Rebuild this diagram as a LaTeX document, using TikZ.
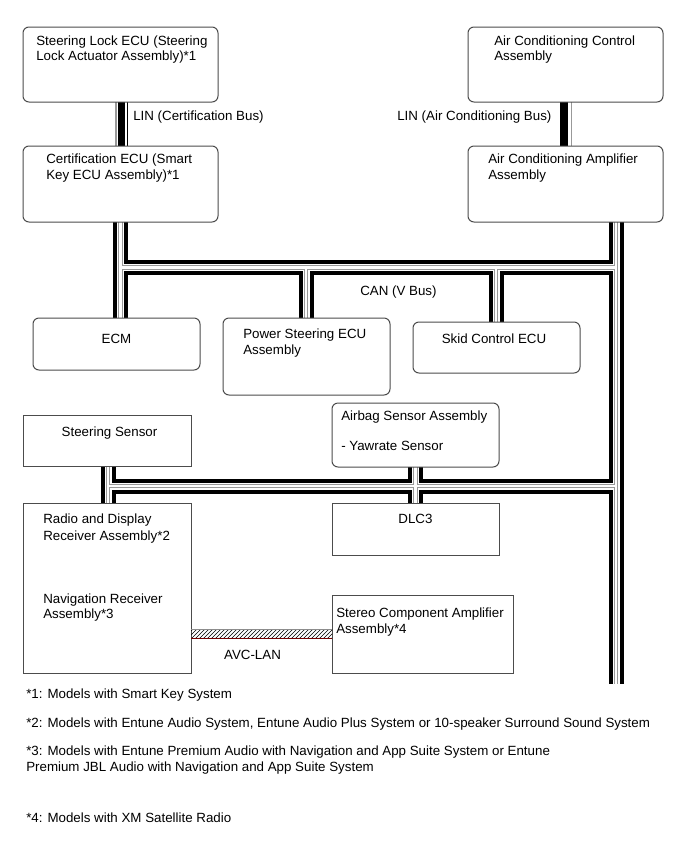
\documentclass[tikz,border=0pt]{standalone}
\usepackage{fontspec}
\setmainfont{Liberation Sans}
\usetikzlibrary{patterns,backgrounds}
\newcommand\Bx[6]{\node[#1, minimum width={(#5-#3)*0.75pt}, minimum height={(#6-#4)*0.75pt}] (#2) at (#3,#4) {};}
\newcommand\busnet[1]{\draw[#1] (cert.south) -- (cert.south |- ecm.north)
  (cert.south |- jR) -- (jR)
  (acamp.south -| jR) -- (rEnd)
  (jPS) -- (jPS |- ps.north)
  (jSk) -- (jSk |- skid.north)
  (sens.south -| jLL) -- (jLL |- radio.north)
  (jLL) -- (jLL -| jR)
  (airbag.south) -- (dlc.north);}
\begin{document}
\begin{tikzpicture}[x=0.75pt,y=-0.75pt,
  bx/.style={draw=black!70, line width=0.75pt, anchor=north west, inner sep=0pt, outer sep=0pt},
  rbx/.style={bx, rounded corners=4.5pt},
  tx/.style={anchor=base west, inner sep=0pt, font=\fontsize{10}{12}\selectfont},
  ctx/.style={tx, anchor=base},
  busA/.style={line width=11.25pt, draw=black},
  busB/.style={line width=5.25pt, draw=white},
  busC/.style={line width=3.4pt, draw=black!40},
  busD/.style={line width=1.9pt, draw=white},
  linblk/.style={draw=black},
  linthin/.style={draw=black, line width=0.9pt},
  lingray/.style={draw=black!40, line width=1pt}
]
\useasboundingbox (0,0) rectangle (690,854);

% boxes
\Bx{rbx}{slock}{23}{27}{218}{102}
\Bx{rbx}{cert}{23}{146}{218}{222}
\Bx{rbx}{acctl}{468}{27}{663}{102}
\Bx{rbx}{acamp}{468}{146}{663}{222}
\Bx{rbx}{ecm}{33}{318}{200}{370}
\Bx{rbx}{ps}{223}{318}{390}{395}
\Bx{rbx}{skid}{413}{322}{580}{373}
\Bx{bx}{sens}{23}{415}{191}{466}
\Bx{rbx}{airbag}{332}{403}{499}{467}
\Bx{bx}{dlc}{332}{503}{499}{555}
\Bx{bx}{radio}{23}{503}{191}{673}
\Bx{bx}{stereo}{332}{595}{513}{673}

% texts
\node[tx] (t1a) at (36,45) {Steering Lock ECU (Steering};
\node[tx] (t1b) at (36,60.5) {Lock Actuator Assembly)*1};
\node[tx] (t2a) at (46,163) {Certification ECU (Smart};
\node[tx] (t2b) at (46,179) {Key ECU Assembly)*1};
\node[tx] (t3a) at (494,45) {Air Conditioning Control};
\node[tx] (t3b) at (494,60.5) {Assembly};
\node[tx] (t4a) at (488,163) {Air Conditioning Amplifier};
\node[tx] (t4b) at (488,179) {Assembly};
\node[tx] (lin1) at (133,120) {LIN (Certification Bus)};
\node[tx] (lin2) at (397,120) {LIN (Air Conditioning Bus)};
\node[tx] (can) at (360,295) {CAN (V Bus)};
\node[ctx] (t5) at (116.5,343) {ECM};
\node[tx] (t6a) at (243,338) {Power Steering ECU};
\node[tx] (t6b) at (243,354) {Assembly};
\node[ctx] (t7) at (494,343) {Skid Control ECU};
\node[ctx] (t8) at (109.5,436) {Steering Sensor};
\node[tx] (t9a) at (341,420) {Airbag Sensor Assembly};
\node[tx] (t9b) at (341,450) {- Yawrate Sensor};
\node[ctx] (t10) at (415.5,523) {DLC3};
\node[tx] (t11a) at (43,523) {Radio and Display};
\node[tx] (t11b) at (43,540) {Receiver Assembly*2};
\node[tx] (t11c) at (43,603) {Navigation Receiver};
\node[tx] (t11d) at (43,618) {Assembly*3};
\node[tx] (t12a) at (336,617) {Stereo Component Amplifier};
\node[tx] (t12b) at (336,633) {Assembly*4};
\node[ctx] (avc) at (252.5,659) {AVC-LAN};

\node[tx] (f1) at (26,698) {*1: Models with Smart Key System};
\node[tx] (f2) at (26,727) {*2: Models with Entune Audio System, Entune Audio Plus System or 10-speaker Surround Sound System};
\node[tx] (f3a) at (26,755) {*3: Models with Entune Premium Audio with Navigation and App Suite System or Entune};
\node[tx] (f3b) at (26,771) {Premium JBL Audio with Navigation and App Suite System};
\node[tx] (f4) at (26,822) {*4: Models with XM Satellite Radio};

% bus junction coordinates
\coordinate (jR) at (616,267.5);
\coordinate (jPS) at (306,267.5);
\coordinate (jSk) at (496,267.5);
\coordinate (rEnd) at (616,684);
\coordinate (jLL) at (108,486);
\coordinate (xl1) at (121,0);
\coordinate (xl2) at (127.3,0);
\coordinate (xl3) at (116,0);
\coordinate (xr1) at (564.3,0);
\coordinate (xr2) at (571.7,0);
\coordinate (yA) at (0,629);
\coordinate (yB) at (0,638);

\begin{scope}[on background layer]
  \fill[white] (0,0) rectangle (690,854);
  \busnet{busA}
  \busnet{busB}
  \busnet{busC}
  \busnet{busD}
  % LIN buses
  \draw[linblk, line width=5.25pt] (slock.south -| xl1) -- (cert.north -| xl1);
  \draw[linthin] (slock.south -| xl2) -- (cert.north -| xl2);
  \draw[lingray] (slock.south -| xl3) -- (cert.north -| xl3);
  \draw[linblk, line width=6pt] (acctl.south -| xr1) -- (acamp.north -| xr1);
  \draw[lingray] (acctl.south -| xr2) -- (acamp.north -| xr2);
\end{scope}

% AVC-LAN
\fill[pattern=north east lines] (radio.east |- yA) rectangle (stereo.west |- yB);
\draw[black!45, line width=0.75pt] (radio.east |- yA) -- (stereo.west |- yA);
\draw[red!45!black, line width=0.75pt] (radio.east |- yB) -- (stereo.west |- yB);
\end{tikzpicture}
\end{document}
